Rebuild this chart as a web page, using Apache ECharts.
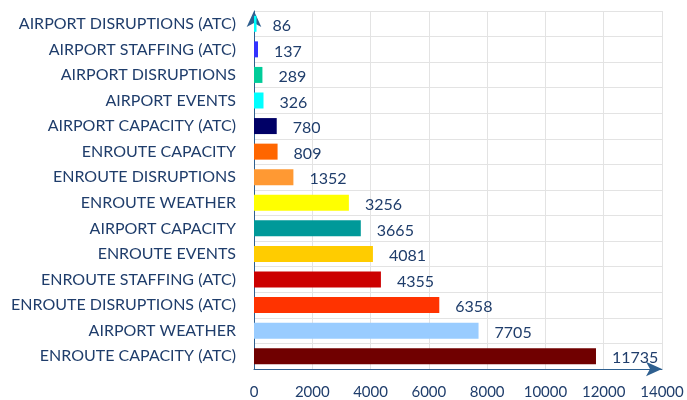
<!DOCTYPE html>
<html>
<head>
<meta charset="utf-8">
<script src="https://cdn.jsdelivr.net/npm/echarts@6/dist/echarts.min.js"></script>
<style>html,body{margin:0;padding:0;background:#fff}#c{width:687px;height:400px}</style>
</head>
<body>
<div id="c"></div>
<script>
const categories = [
  'AIRPORT DISRUPTIONS (ATC)', 'AIRPORT STAFFING (ATC)', 'AIRPORT DISRUPTIONS', 'AIRPORT EVENTS',
  'AIRPORT CAPACITY (ATC)', 'ENROUTE CAPACITY', 'ENROUTE DISRUPTIONS', 'ENROUTE WEATHER',
  'AIRPORT CAPACITY', 'ENROUTE EVENTS', 'ENROUTE STAFFING (ATC)', 'ENROUTE DISRUPTIONS (ATC)',
  'AIRPORT WEATHER', 'ENROUTE CAPACITY (ATC)'
];
const values = [86, 137, 289, 326, 780, 809, 1352, 3256, 3665, 4081, 4355, 6358, 7705, 11735];
const barColors = ['#00FFFF', '#3333FF', '#00CC99', '#00FFFF', '#000066', '#FF6600', '#FF9933',
  '#FFFF00', '#009999', '#FFCC00', '#CC0000', '#FF3300', '#99CCFF', '#700000'];
const xTicks = [0, 2000, 4000, 6000, 8000, 10000, 12000, 14000];

const textColor = '#1F3D6B';
const font = 'Lato, "Open Sans", sans-serif';
const chart = echarts.init(document.getElementById('c'), null, {renderer: 'canvas'});
chart.setOption({
  animation: false,
  grid: {left: 254, right: 25, top: 11, bottom: 31, containLabel: false},
  xAxis: {
    type: 'value', min: xTicks[0], max: xTicks[xTicks.length - 1], interval: 2000,
    axisLine: {show: true, lineStyle: {color: '#2E5F8F', width: 1}, symbol: ['none', 'arrow'], symbolSize: [11, 16]},
    axisTick: {show: false},
    axisLabel: {color: textColor, fontSize: 15, fontFamily: font, margin: 16, formatter: v => String(v)},
    splitLine: {show: true, lineStyle: {color: '#E3E3E3', width: 1}}
  },
  yAxis: {
    type: 'category', data: categories, inverse: true,
    axisLine: {show: true, lineStyle: {color: '#2E5F8F', width: 1}, symbol: ['none', 'arrow'], symbolSize: [11, 16]},
    axisTick: {show: false},
    axisLabel: {color: textColor, fontSize: 16, fontFamily: font, margin: 18},
    splitLine: {show: true, lineStyle: {color: '#E3E3E3', width: 1}}
  },
  series: [{
    type: 'bar',
    data: values.map((v, i) => ({value: v, itemStyle: {color: barColors[i]}})),
    barWidth: 16,
    label: {show: true, position: 'right', distance: 16, offset: [0, 2], color: textColor, fontSize: 16, fontFamily: font}
  }]
});
</script>
</body>
</html>
